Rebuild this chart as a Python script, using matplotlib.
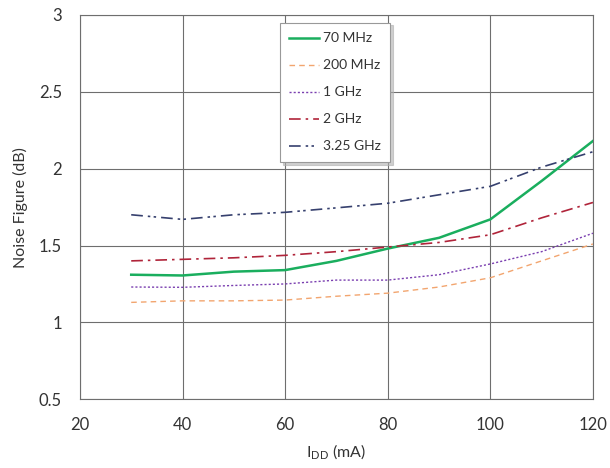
import matplotlib
matplotlib.use("Agg")
import matplotlib.pyplot as plt

# ----- data -----
IDD = [30, 40, 50, 60, 70, 80, 90, 100, 110, 120]
NF_70MHZ = [1.31, 1.305, 1.33, 1.34, 1.40, 1.48, 1.55, 1.67, 1.92, 2.18]
NF_200MHZ = [1.13, 1.14, 1.14, 1.145, 1.17, 1.19, 1.23, 1.29, 1.40, 1.51]
NF_1GHZ = [1.23, 1.228, 1.24, 1.25, 1.275, 1.275, 1.31, 1.38, 1.46, 1.58]
NF_2GHZ = [1.40, 1.41, 1.42, 1.436, 1.46, 1.49, 1.52, 1.57, 1.68, 1.78]
NF_325GHZ = [1.70, 1.67, 1.70, 1.716, 1.745, 1.775, 1.83, 1.885, 2.01, 2.11]

LABELS = ["70 MHz", "200 MHz", "1 GHz", "2 GHz", "3.25 GHz"]
XTICKS = [20, 40, 60, 80, 100, 120]
YTICKS = [0.5, 1, 1.5, 2, 2.5, 3]
YTICKLABELS = ["0.5", "1", "1.5", "2", "2.5", "3"]

TEXT = "#333333"
GRID = "#6e6e6e"

plt.rcParams["font.family"] = ["Lato", "DejaVu Sans"]

fig = plt.figure(figsize=(6.1, 4.68), dpi=100)
ax = fig.add_axes([0.131, 0.147, 0.841, 0.821])

styles = [
    dict(color="#1aae5e", linestyle="-", linewidth=1.8),
    dict(color="#f2a56f", linestyle=(0, (4, 3)), linewidth=1.0),
    dict(color="#7a3fb0", linestyle=(0, (1.5, 1.5)), linewidth=1.0),
    dict(color="#b0243a", linestyle=(0, (7, 3, 1.5, 3)), linewidth=1.2),
    dict(color="#36406e", linestyle=(0, (7, 3, 1.5, 2, 1.5, 3)), linewidth=1.2),
]
series = [NF_70MHZ, NF_200MHZ, NF_1GHZ, NF_2GHZ, NF_325GHZ]

for ys, lab, st in zip(series, LABELS, styles):
    ax.plot(IDD, ys, label=lab, zorder=3, **st)

ax.set_xlim(20, 120)
ax.set_ylim(0.5, 3)
ax.set_xticks(XTICKS)
ax.set_yticks(YTICKS)
ax.set_yticklabels(YTICKLABELS)
ax.grid(True, color=GRID, linewidth=0.8)
for sp in ax.spines.values():
    sp.set_color(GRID)
    sp.set_linewidth(0.8)
ax.tick_params(length=0, labelsize=12, colors=TEXT)
ax.tick_params(axis="x", pad=13)
ax.tick_params(axis="y", pad=13)

ax.set_xlabel("I$_{\\mathregular{DD}}$ (mA)", fontsize=11.5, color=TEXT, labelpad=7)
ax.set_ylabel("Noise Figure (dB)", fontsize=11.5, color=TEXT, labelpad=8)

leg = ax.legend(loc="upper left", bbox_to_anchor=(0.376, 0.998), fontsize=10,
                frameon=True, fancybox=False,
                shadow={"color": "#b0b0b0", "alpha": 0.6, "ox": 2, "oy": -2},
                handlelength=2.1, labelspacing=1.08, borderpad=0.7,
                handletextpad=0.3, labelcolor=TEXT)
leg.get_frame().set_edgecolor("#999999")
leg.get_frame().set_linewidth(0.8)

fig.savefig("out.png", dpi=100)
